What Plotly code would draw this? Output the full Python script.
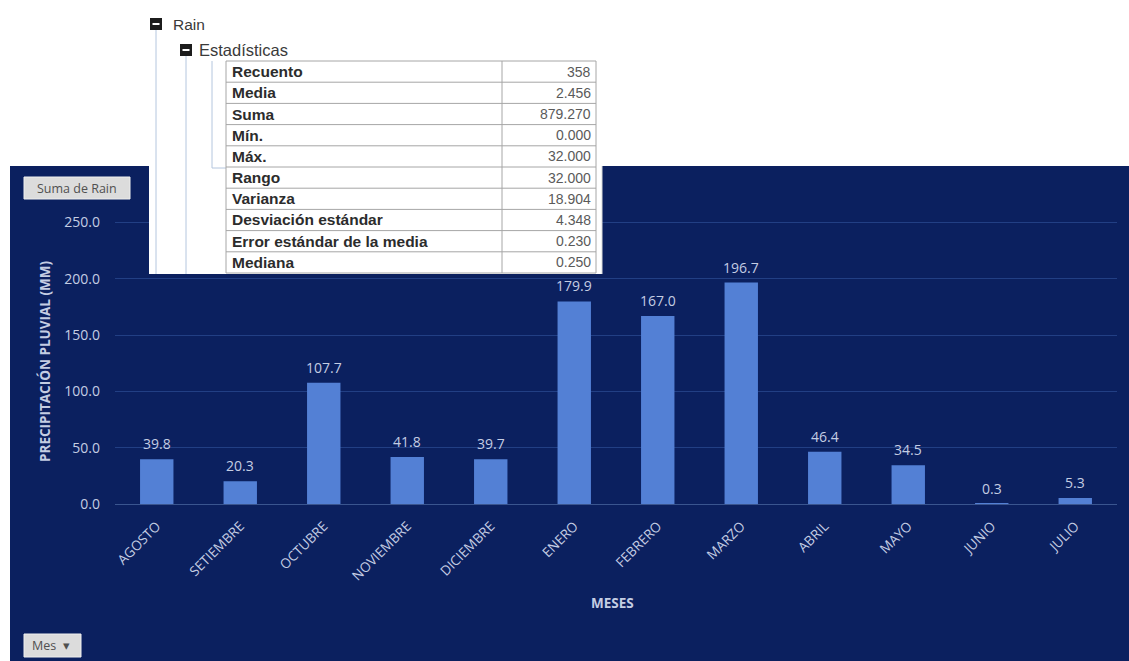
import plotly.graph_objects as go

# Monthly rainfall totals (mm)
meses = ["AGOSTO", "SETIEMBRE", "OCTUBRE", "NOVIEMBRE", "DICIEMBRE", "ENERO",
         "FEBRERO", "MARZO", "ABRIL", "MAYO", "JUNIO", "JULIO"]
lluvia = [39.8, 20.3, 107.7, 41.8, 39.7, 179.9, 167.0, 196.7, 46.4, 34.5, 0.3, 5.3]

# Summary statistics of the daily Rain field
estad_nombres = ["Recuento", "Media", "Suma", "Mín.", "Máx.", "Rango", "Varianza",
                 "Desviación estándar", "Error estándar de la media", "Mediana"]
estad_valores = ["358", "2.456", "879.270", "0.000", "32.000", "32.000", "18.904",
                 "4.348", "0.230", "0.250"]

W, H = 1129, 661
NAVY = "#0b205f"
LIGHT = "#c4cde3"
TREE = "#b4c6de"


def px(x):
    return x / W


def py(y):
    return 1 - y / H


def note(x, y, text, size, color, family="Open Sans", xanchor="center", **kw):
    return dict(x=px(x), y=py(y), xref="paper", yref="paper", text=text,
                showarrow=False, xanchor=xanchor, yanchor="middle",
                font=dict(family=family, size=size, color=color), **kw)


def hline(x0, x1, y, color, width=1):
    return dict(type="line", xref="paper", yref="paper", x0=px(x0), x1=px(x1),
                y0=py(y), y1=py(y), line=dict(color=color, width=width), layer="above")


def vline(x, y0, y1, color, width=1):
    return dict(type="line", xref="paper", yref="paper", x0=px(x), x1=px(x),
                y0=py(y0), y1=py(y1), line=dict(color=color, width=width), layer="above")


def box(x0, x1, y0, y1, fill, line_color=None, layer="above"):
    return dict(type="rect", xref="paper", yref="paper", x0=px(x0), x1=px(x1),
                y0=py(y1), y1=py(y0), fillcolor=fill,
                line=dict(color=line_color or fill, width=1 if line_color else 0),
                layer=layer)


fig = go.Figure()

fig.add_trace(go.Bar(
    x=meses, y=lluvia,
    marker=dict(color="#5380d5", line=dict(width=0)),
    hoverinfo="x+y",
    showlegend=False,
))

annotations = []
# value labels above each bar
for m, v in zip(meses, lluvia):
    annotations.append(dict(
        x=m, y=v, xref="x", yref="y", text=f"{v:.1f}", showarrow=False,
        yanchor="bottom", yshift=4,
        font=dict(family="Open Sans", size=14, color=LIGHT),
    ))

# axis titles
annotations.append(note(45, 362, "<b>PRECIPITACIÓN PLUVIAL (MM)</b>", 13.5, LIGHT, textangle=-90))
annotations.append(note(612, 603, "<b>MESES</b>", 13.5, LIGHT))

# field buttons
annotations.append(note(77, 188, "Suma de Rain", 12.5, "#505050"))
annotations.append(note(51, 645, "Mes  ▾", 12.5, "#505050"))

# tree labels
annotations.append(note(171, 24, "Rain", 15.5, "#3a3a3a", family="Liberation Sans", xanchor="left"))
annotations.append(note(197, 50, "Estadísticas", 16.5, "#3a3a3a", family="Liberation Sans", xanchor="left"))

shapes = [
    # dark chart canvas
    box(10, W + 2, 166, H + 2, NAVY, layer="below"),
    # buttons
    box(24, 130, 177, 199, "#dcdcdc", "#efefef"),
    box(24, 81, 634, 657, "#dcdcdc", "#efefef"),
    # white statistics panel
    box(149, 602, -2, 274, "white"),
    vline(602, 166, 274, "#d8d8d8"),
    # tree connectors
    vline(156, 30, 274, TREE),
    vline(186, 55, 274, TREE),
    vline(212, 61, 168, TREE),
    hline(212, 226, 168, TREE),
    # collapse icons
    box(150, 162, 18, 30, "#1c1c1c"),
    hline(152.5, 159.5, 24, "white", 2),
    box(180, 192, 44, 56, "#1c1c1c"),
    hline(182.5, 189.5, 50, "white", 2),
]

# statistics table: grid and cell texts
T_LEFT, T_MID, T_RIGHT, T_TOP, T_BOTTOM = 226, 502, 596, 61, 273
row_h = (T_BOTTOM - T_TOP) / len(estad_nombres)
GRID = "#a6a6a6"
shapes.append(box(T_LEFT, T_RIGHT, T_TOP, T_BOTTOM, "white", GRID))
shapes.append(vline(T_MID, T_TOP, T_BOTTOM, GRID))
for i in range(1, len(estad_nombres)):
    shapes.append(hline(T_LEFT, T_RIGHT, T_TOP + i * row_h, GRID))
for i, (n, v) in enumerate(zip(estad_nombres, estad_valores)):
    yc = T_TOP + (i + 0.5) * row_h
    annotations.append(note(T_LEFT + 4, yc, f"<b>{n}</b>", 15.5, "#2c2c2c",
                            family="Liberation Sans", xanchor="left"))
    annotations.append(note(T_RIGHT - 3, yc, v, 14, "#5a5a5a",
                            family="Liberation Sans Narrow, Liberation Sans", xanchor="right"))

fig.update_layout(
    width=W, height=H,
    margin=dict(l=0, r=0, t=0, b=0),
    paper_bgcolor="white",
    plot_bgcolor="rgba(0,0,0,0)",
    bargap=0.6,
    shapes=shapes,
    annotations=annotations,
    xaxis=dict(
        domain=[px(115), px(1117)],
        tickangle=-45, automargin=False,
        tickfont=dict(family="Open Sans", size=13.5, color=LIGHT),
        showgrid=False, showline=True, linecolor="#3a558f", linewidth=1,
        zeroline=False, ticks="", ticklabelstandoff=8,
    ),
    yaxis=dict(
        domain=[py(504), py(200)],
        range=[0, 270], dtick=50, tickformat=".1f",
        automargin=False,
        tickfont=dict(family="Open Sans", size=14, color=LIGHT),
        showgrid=True, gridcolor="#223f84", gridwidth=1,
        zeroline=False, showline=False, ticks="", ticklabelstandoff=14,
    ),
)

fig.write_html("out.html")
